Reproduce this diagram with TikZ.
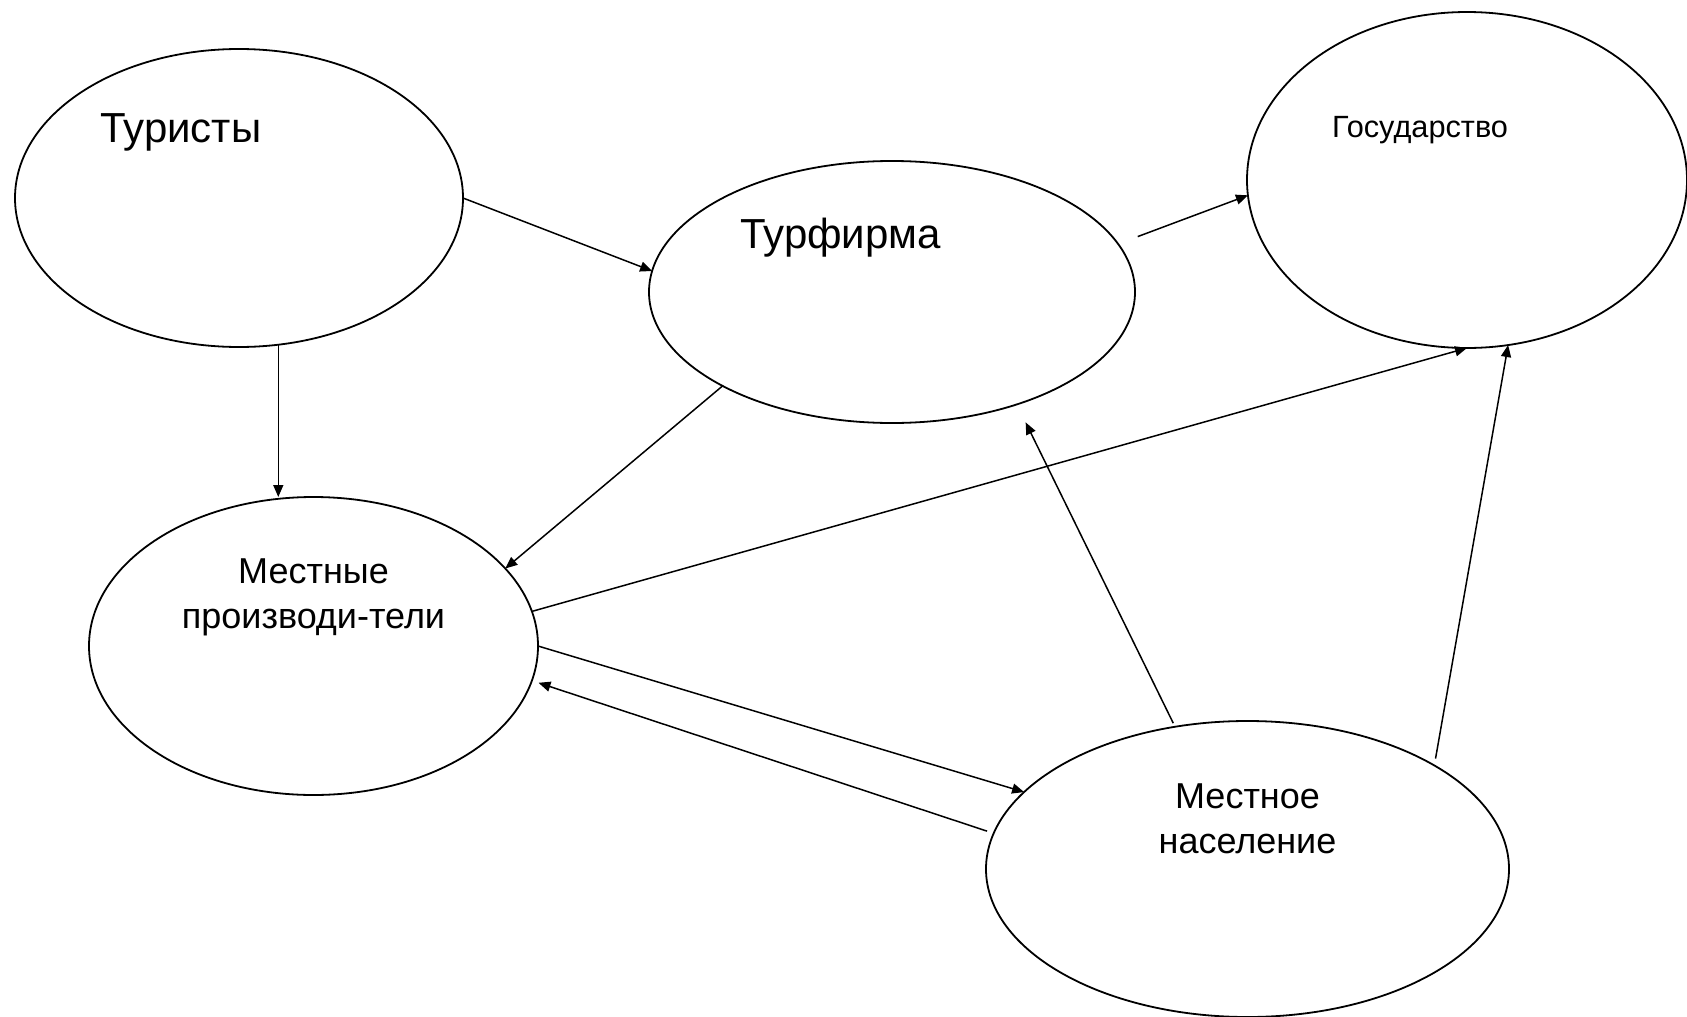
\documentclass[tikz,border=0pt]{standalone}
\usepackage{fontspec}
\setmainfont{Liberation Sans}
\usetikzlibrary{arrows.meta,shapes.geometric}
\begin{document}
\begin{tikzpicture}[x=1pt,y=-1pt,
  ell/.style={draw, ellipse, line width=1.8pt, inner sep=0pt, outer sep=0pt},
  arr/.style={line width=1.5pt, -{Triangle[length=12pt,width=10pt]}},
  lblbig/.style={font=\fontsize{42}{50}\selectfont, inner sep=0pt, anchor=base west},
  lblsmall/.style={font=\fontsize{30.7}{37}\selectfont, inner sep=0pt, anchor=base west},
  lblmid/.style={font=\fontsize{36}{45}\selectfont, inner sep=0pt, anchor=base}]
\useasboundingbox (0,0) rectangle (1687,1017);
\fill[white] (0,0) rectangle (1687,1017);

% ellipses
\node[ell, minimum width=448pt, minimum height=298pt] (tur) at (239,198) {};
\node[ell, minimum width=486pt, minimum height=262pt] (firm) at (892,292) {};
\node[ell, minimum width=440pt, minimum height=336pt] (gos) at (1467,180) {};
\node[ell, minimum width=449pt, minimum height=298pt] (proizv) at (313.5,646) {};
\node[ell, minimum width=523pt, minimum height=296pt] (nas) at (1247.5,869) {};

% labels
\node[lblbig] (turT) at (100,142) {Туристы};
\node[lblbig] (firmT) at (740,248) {Турфирма};
\node[lblsmall] (gosT) at (1332,137) {Государство};
\node[lblmid] (proizvT) at (313.5,583) {\begin{tabular}[t]{@{}c@{}}Местные\\производи-тели\end{tabular}};
\node[lblmid] (nasT) at (1247.5,808) {\begin{tabular}[t]{@{}c@{}}Местное\\население\end{tabular}};

% connectors
\draw[arr] (tur.0) -- (firm.175.3);
\draw[arr] (tur.-75.9) -- (tur.-75.9 |- proizv.north);
\draw[arr] (firm.-151.2) -- (proizv.22.1);
\draw[arr, shorten <=21pt] (firm.12.67) -- (gos.184.7);
\draw[arr] (proizv.9.6) -- (gos.-90);
\draw[arr] (proizv.0) -- (nas.161.8);
\draw[arr, shorten <=7pt, shorten >=7pt] (nas.172.46) -- (proizv.-9.57);
\draw[arr, shorten <=4pt, shorten >=20pt] (nas.117.7) -- (firm.-42.6);
\draw[arr, shorten <=7pt] (nas.29.7) -- (gos.-76.2);
\end{tikzpicture}
\end{document}
